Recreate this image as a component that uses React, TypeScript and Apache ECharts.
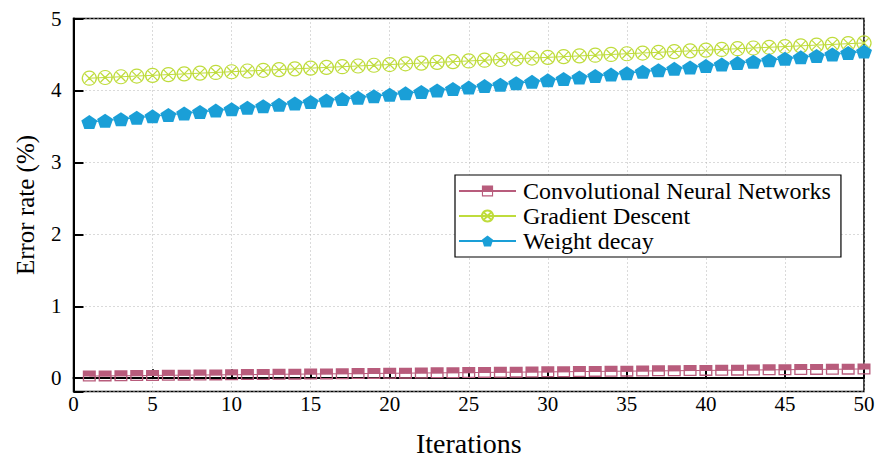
import React, { useEffect, useRef } from "react";
import * as echarts from "echarts";

const iterations: number[] = Array.from({ length: 50 }, (_, i) => i + 1);

const cnnValues: number[] = [
  0.03, 0.032, 0.034, 0.036, 0.038, 0.04, 0.042, 0.044, 0.046, 0.048,
  0.05, 0.052, 0.054, 0.056, 0.058, 0.06, 0.062, 0.064, 0.066, 0.068,
  0.07, 0.072, 0.074, 0.076, 0.078, 0.08, 0.082, 0.084, 0.086, 0.088,
  0.09, 0.092, 0.094, 0.096, 0.098, 0.1, 0.102, 0.104, 0.106, 0.108,
  0.11, 0.112, 0.114, 0.116, 0.118, 0.12, 0.122, 0.124, 0.126, 0.128,
];

const gdValues: number[] = [
  4.17, 4.18, 4.19, 4.2, 4.21, 4.22, 4.23, 4.24, 4.25, 4.26,
  4.27, 4.28, 4.29, 4.3, 4.31, 4.32, 4.33, 4.34, 4.35, 4.36,
  4.37, 4.38, 4.39, 4.4, 4.41, 4.42, 4.43, 4.44, 4.45, 4.46,
  4.47, 4.48, 4.49, 4.5, 4.51, 4.52, 4.53, 4.54, 4.55, 4.56,
  4.57, 4.58, 4.59, 4.6, 4.61, 4.62, 4.63, 4.64, 4.65, 4.66,
];

const wdValues: number[] = [
  3.56, 3.58, 3.6, 3.62, 3.64, 3.66, 3.68, 3.7, 3.72, 3.74,
  3.76, 3.78, 3.8, 3.82, 3.84, 3.86, 3.88, 3.9, 3.92, 3.94,
  3.96, 3.98, 4.0, 4.02, 4.04, 4.06, 4.08, 4.1, 4.12, 4.14,
  4.16, 4.18, 4.2, 4.22, 4.24, 4.26, 4.28, 4.3, 4.32, 4.34,
  4.36, 4.38, 4.4, 4.42, 4.44, 4.46, 4.48, 4.5, 4.52, 4.54,
];

const seriesNames: string[] = ["Convolutional Neural Networks", "Gradient Descent", "Weight decay"];
const xTitle = "Iterations";
const yTitle = "Error rate (%)";

const FONT = "'Liberation Serif', 'Times New Roman', serif";

const CNN_COLOR = "#b85c7c";
const GD_COLOR = "#bfdc3c";
const WD_COLOR = "#1a9fd7";

const rectHalfSymbol = "path://M0,0 L100,0 L100,100 L0,100 Z M10,55 L10,88 L90,88 L90,55 Z";
const crossCircleSymbol = "path://M50,0 A50,50 0 1,1 49.9,0 Z M18,18 L82,82 M82,18 L18,82";
const pentagonSymbol = "path://M50,0 L100,38 L81,100 L19,100 L0,38 Z";

const pair = (vals: number[]) => iterations.map((x, i) => [x, vals[i]]);

const gridLine = { show: true, lineStyle: { color: "#b4b4b4", type: [1, 3], width: 1 } };

export default function App() {
  const ref = useRef<HTMLDivElement>(null);
  useEffect(() => {
    if (!ref.current) return;
    const chart = echarts.init(ref.current, undefined, { renderer: "svg" });
    chart.setOption({
      animation: false,
      backgroundColor: "#fff",
      textStyle: { fontFamily: FONT },
      grid: {
        left: 73.5,
        right: 12,
        top: 18.5,
        bottom: 71.5,
        outerBoundsMode: "none",
        containLabel: false,
        show: true,
        borderColor: "#000",
        borderWidth: 1.5,
      },
      legend: {
        orient: "vertical",
        left: 455,
        top: 175,
        data: seriesNames,
        backgroundColor: "#fff",
        borderColor: "#000",
        borderWidth: 1.2,
        borderRadius: 0,
        padding: [4, 10, 4, 3],
        itemWidth: 57,
        itemHeight: 14,
        itemGap: 1,
        textStyle: { fontFamily: FONT, fontSize: 24, color: "#000", padding: [0, 0, 0, 2] },
      },
      xAxis: {
        type: "value",
        min: 0,
        max: 50,
        interval: 5,
        name: xTitle,
        nameLocation: "middle",
        nameGap: 38,
        nameTextStyle: { fontFamily: FONT, fontSize: 28, color: "#000" },
        axisLine: { lineStyle: { color: "#000", width: 2 } },
        axisTick: { inside: true, length: 9, lineStyle: { color: "#000", width: 2 } },
        axisLabel: { fontFamily: FONT, fontSize: 21, color: "#000", margin: 2 },
        splitLine: gridLine,
      },
      yAxis: {
        type: "value",
        min: -0.185,
        max: 5,
        minInterval: 1,
        maxInterval: 1,
        name: yTitle,
        nameLocation: "middle",
        nameGap: 36,
        nameTextStyle: { fontFamily: FONT, fontSize: 25, color: "#000" },
        axisLine: { show: true, lineStyle: { color: "#000", width: 2 } },
        axisTick: { show: true, inside: true, length: 10, lineStyle: { color: "#000", width: 2 } },
        axisLabel: {
          fontFamily: FONT,
          fontSize: 21,
          color: "#000",
          margin: 12,
          formatter: (v: number) => (Math.abs(v - Math.round(v)) < 1e-6 ? String(Math.round(v)) : ""),
        },
        splitLine: gridLine,
      },
      series: [
        {
          name: seriesNames[0],
          type: "line",
          data: pair(cnnValues),
          symbol: rectHalfSymbol,
          symbolSize: [13, 11],
          showAllSymbol: true,
          lineStyle: { color: CNN_COLOR, width: 1 },
          itemStyle: { color: CNN_COLOR },
          z: 3,
        },
        {
          name: seriesNames[1],
          type: "line",
          data: pair(gdValues),
          symbol: crossCircleSymbol,
          symbolSize: 14,
          showAllSymbol: true,
          lineStyle: { color: GD_COLOR, width: 1 },
          itemStyle: { color: "rgba(255,255,255,0)", borderColor: GD_COLOR, borderWidth: 1.2 },
          z: 3,
        },
        {
          name: seriesNames[2],
          type: "line",
          data: pair(wdValues),
          symbol: pentagonSymbol,
          symbolSize: [16, 14],
          showAllSymbol: true,
          lineStyle: { color: WD_COLOR, width: 1 },
          itemStyle: { color: WD_COLOR },
          z: 3,
        },
      ],
    });
    return () => chart.dispose();
  }, []);
  return (
    <div
      ref={ref}
      style={{ position: "absolute", left: 0, top: 0, width: 876, height: 463 }}
    />
  );
}
